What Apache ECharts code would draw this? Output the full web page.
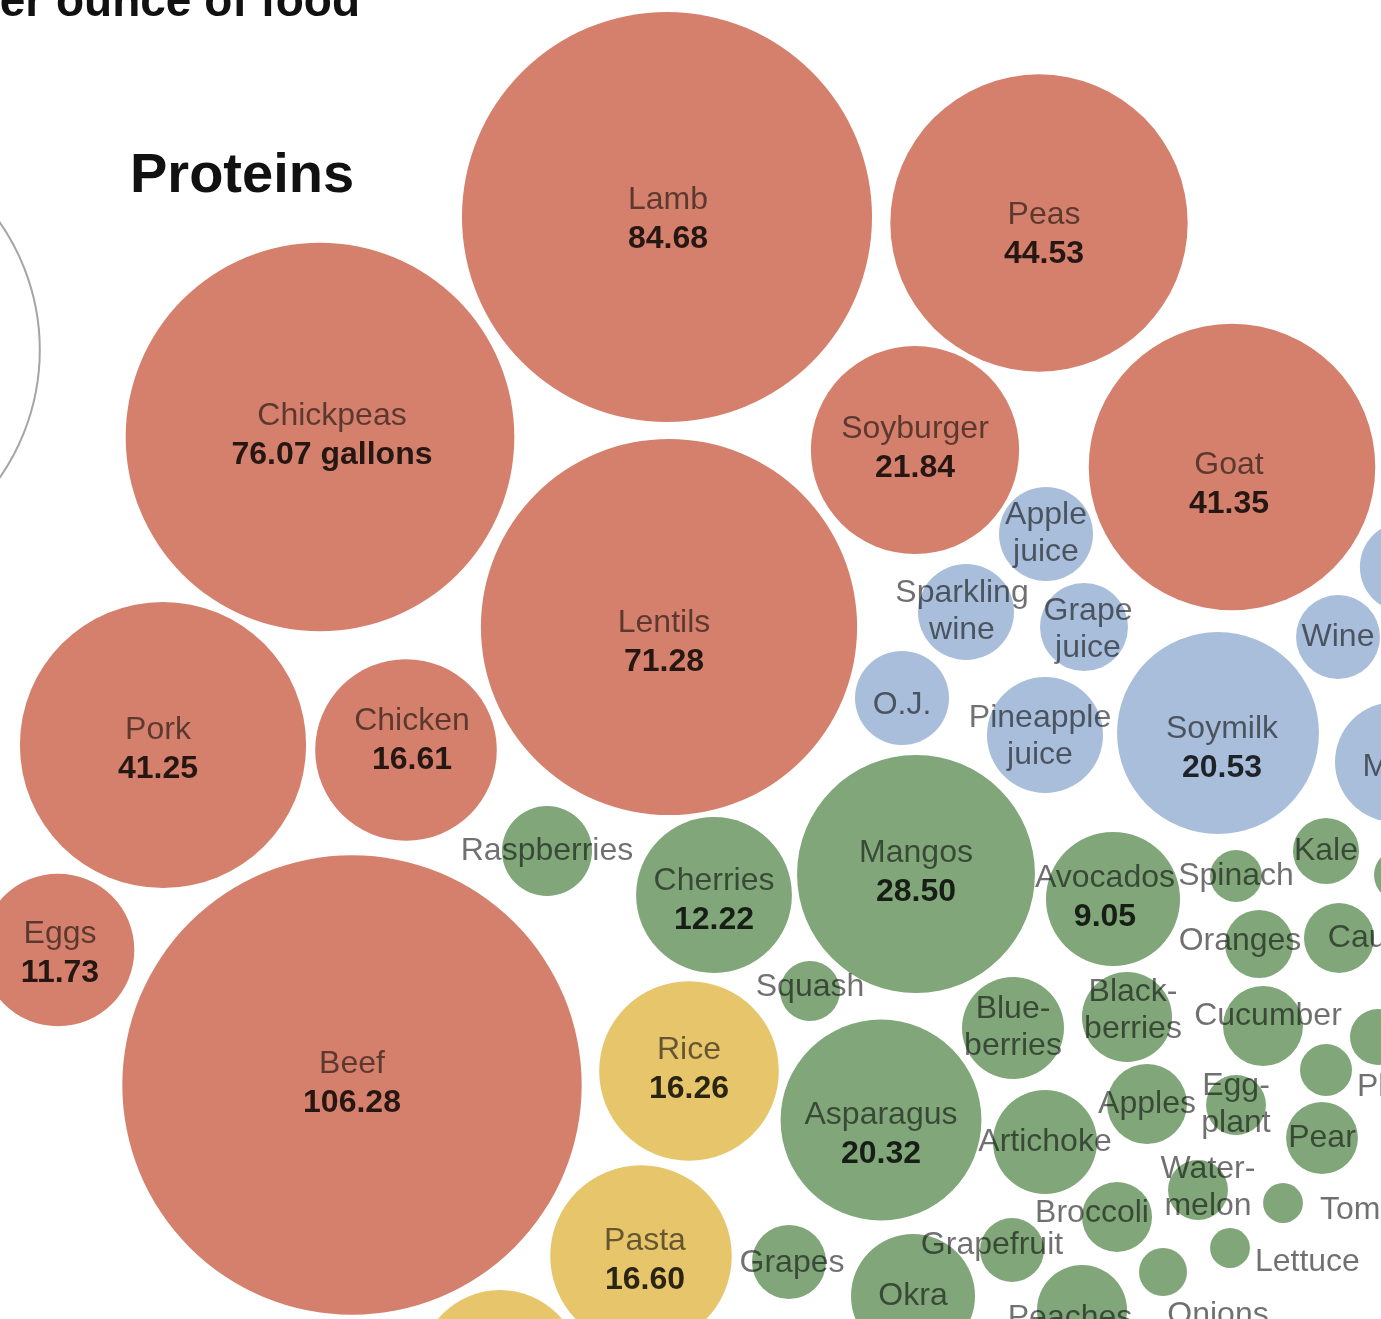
<!DOCTYPE html>
<html>
<head>
<meta charset="utf-8">
<style>
html,body{margin:0;padding:0;background:#ffffff;}
#chart{width:1381px;height:1319px;}
</style>
<script src="https://cdn.jsdelivr.net/npm/echarts@6/dist/echarts.min.js"></script>
</head>
<body>
<div id="chart"></div>
<script>
// ---------- DATA (gallons of water per ounce of food) ----------
// Proteins
const proteinNames   = ['Lamb', 'Peas', 'Chickpeas', 'Lentils', 'Soyburger', 'Goat', 'Pork', 'Chicken', 'Eggs', 'Beef'];
const proteinGallons = [84.68, 44.53, 76.07, 71.28, 21.84, 41.35, 41.25, 16.61, 11.73, 106.28];
const proteinX       = [667, 1039, 320, 669, 915, 1232, 163, 406, 58, 352];
const proteinY       = [217, 223, 437, 627, 450, 467, 745, 750, 950, 1085];

// Grains
const grainNames   = ['Rice', 'Pasta', ''];
const grainGallons = [16.26, 16.60, 13.2];
const grainX       = [689, 641, 500];
const grainY       = [1071, 1256, 1371];

// Beverages
const drinkNames   = ['Apple\njuice', 'Sparkling\nwine', 'Grape\njuice', 'O.J.', 'Pineapple\njuice', 'Soymilk', 'Wine', 'Milk', ''];
const drinkGallons = [4.45, 4.64, 3.9, 4.45, 6.78, 20.53, 3.55, 7.25, 4.1];
const drinkX       = [1046, 966, 1084, 902, 1045, 1218, 1338, 1395, 1405];
const drinkY       = [534, 612, 627, 698, 735, 733, 637, 762, 567];

// Fruits and vegetables
const produceNames = ['Raspberries', 'Cherries', 'Squash', 'Mangos', 'Avocados', 'Spinach', 'Kale', 'Oranges',
  'Cauliflower', 'Blue-\nberries', 'Black-\nberries', 'Cucumber', 'Asparagus', 'Artichoke', 'Apples', 'Egg-\nplant',
  'Pear', 'Plums', 'Water-\nmelon', 'Tomatoes', 'Broccoli', 'Lettuce', 'Grapefruit', 'Okra', 'Grapes', 'Peaches',
  'Onions', '', ''];
const produceGallons = [4.08, 12.22, 1.81, 28.50, 9.05, 1.36, 2.2, 2.33,
  2.47, 5.24, 4.08, 3.22, 20.32, 5.45, 3.22, 1.81,
  2.6, 1.36, 1.81, 0.8, 2.47, 0.8, 2.06, 7.74, 2.76, 4.08,
  1.16, 1.58, 1.36];
const produceX = [547, 714, 810, 916, 1113, 1236, 1326, 1259,
  1339, 1013, 1127, 1263, 881, 1045, 1147, 1236,
  1322, 1326, 1198, 1283, 1117, 1230, 1012, 913, 789, 1082,
  1163, 1378, 1400];
const produceY = [851, 895, 991, 874, 899, 876, 851, 944,
  938, 1028, 1017, 1026, 1120, 1142, 1104, 1105,
  1138, 1070, 1190, 1203, 1217, 1248, 1250, 1296, 1262, 1310,
  1272, 1037, 875];

// Size key circle (outline)
const keyGallons = [100];
const keyX = [-183];
const keyY = [350];

// Bubbles whose figure is printed
const valueShown = ['Lamb', 'Peas', 'Chickpeas', 'Lentils', 'Soyburger', 'Goat', 'Pork', 'Chicken', 'Eggs', 'Beef',
  'Rice', 'Pasta', 'Soymilk', 'Cherries', 'Mangos', 'Avocados', 'Asparagus'];
const unitShownOn = 'Chickpeas';

// ---------- STYLE ----------
const PX_PER_SQRT_GALLON = 22.28;   // radius scale: area proportional to gallons
const FONT = '"Liberation Sans", Arial, sans-serif';
const COLORS = { protein: '#D4806C', grain: '#E6C56B', drink: '#A9BEDB', produce: '#80A679' };

const labelTweaks = {
  'Lamb': { offset: [1, 4] },
  'Peas': { offset: [5, 13] },
  'Chickpeas': { offset: [12, 0] },
  'Lentils': { offset: [-5, 17] },
  'Goat': { offset: [-3, 19] },
  'Pork': { offset: [-5, 6] },
  'Chicken': { offset: [6, -8] },
  'Eggs': { offset: [2, 5] },
  'Pasta': { offset: [4, 6] },
  'Asparagus': { offset: [0, 16] },
  'Soymilk': { offset: [4, 17] },
  'Cherries': { offset: [0, 7] },
  'Avocados': { offset: [-8, 0] },
  'Oranges': { offset: [-19, -3] },
  'Cauliflower': { offset: [68, 0] },
  'Cucumber': { offset: [5, -10] },
  'Black-\nberries': { offset: [6, -6] },
  'Water-\nmelon': { offset: [10, -2] },
  'Broccoli': { offset: [-25, -4] },
  'Grapefruit': { offset: [-20, -5] },
  'Grapes': { offset: [3, 1] },
  'Peaches': { offset: [-12, 8] },
  'Onions': { offset: [55, 43] },
  'Plums': { position: 'right', offset: [0, 17] },
  'Tomatoes': { position: 'right', offset: [12, 7] },
  'Lettuce': { position: 'right', offset: [0, 14] },
  'Milk': { offset: [-4, 5] },
  'Squash': { offset: [0, -4] },
  'O.J.': { offset: [0, 7] },
  'Sparkling\nwine': { offset: [-4, 0] },
  'Grape\njuice': { offset: [4, 3] },
  'Pineapple\njuice': { offset: [-5, 2] }
};

function buildData(names, values, xs, ys) {
  return names.map(function (n, i) {
    const d = { name: n, value: [xs[i], ys[i], values[i]] };
    if (labelTweaks[n]) d.label = Object.assign({}, labelTweaks[n]);
    return d;
  });
}

function labelText(p) {
  const n = p.name;
  if (!n) return '';
  let s = n.split('\n').map(function (t) { return '{n|' + t + '}'; }).join('\n');
  if (valueShown.indexOf(n) >= 0) {
    s += '\n{v|' + p.value[2].toFixed(2) + (n === unitShownOn ? ' gallons' : '') + '}';
  }
  return s;
}

const labelStyle = {
  show: true,
  position: 'inside',
  formatter: labelText,
  rich: {
    n: { fontFamily: FONT, fontSize: 32, color: 'rgba(0,0,0,0.56)', lineHeight: 37 },
    v: { fontFamily: FONT, fontSize: 32, fontWeight: 'bold', color: 'rgba(0,0,0,0.82)', lineHeight: 41 }
  }
};

function bubbleSeries(name, data, color) {
  return {
    name: name,
    type: 'scatter',
    clip: false,
    silent: true,
    symbol: 'circle',
    symbolSize: function (v) { return 2 * PX_PER_SQRT_GALLON * Math.sqrt(v[2]); },
    itemStyle: { color: color, opacity: 1 },
    label: labelStyle,
    emphasis: { disabled: true },
    data: data
  };
}

const chart = echarts.init(document.getElementById('chart'), null, { renderer: 'canvas' });
chart.setOption({
  animation: false,
  backgroundColor: '#ffffff',
  grid: { left: 0, right: 0, top: 0, bottom: 0 },
  xAxis: { type: 'value', min: 0, max: 1381, show: false },
  yAxis: { type: 'value', min: 0, max: 1319, inverse: true, show: false },
  graphic: [
    { type: 'text', x: 360, y: 3, style: { text: 'per ounce of food', font: 'bold 46px ' + FONT, fill: '#111111', textAlign: 'right', textVerticalAlign: 'middle' } },
    { type: 'text', x: 130, y: 177, style: { text: 'Proteins', font: 'bold 56px ' + FONT, fill: '#111111', textAlign: 'left', textVerticalAlign: 'middle' } }
  ],
  series: [
    {
      name: 'Key',
      type: 'scatter',
      clip: false,
      silent: true,
      symbol: 'circle',
      symbolSize: function (v) { return 2 * PX_PER_SQRT_GALLON * Math.sqrt(v[2]); },
      itemStyle: { color: 'rgba(0,0,0,0)', borderColor: '#8f8f8f', borderWidth: 2 },
      data: keyGallons.map(function (g, i) { return { name: '', value: [keyX[i], keyY[i], g] }; })
    },
    bubbleSeries('Proteins', buildData(proteinNames, proteinGallons, proteinX, proteinY), COLORS.protein),
    bubbleSeries('Grains', buildData(grainNames, grainGallons, grainX, grainY), COLORS.grain),
    bubbleSeries('Beverages', buildData(drinkNames, drinkGallons, drinkX, drinkY), COLORS.drink),
    bubbleSeries('Fruits and vegetables', buildData(produceNames, produceGallons, produceX, produceY), COLORS.produce)
  ]
});
</script>
</body>
</html>
